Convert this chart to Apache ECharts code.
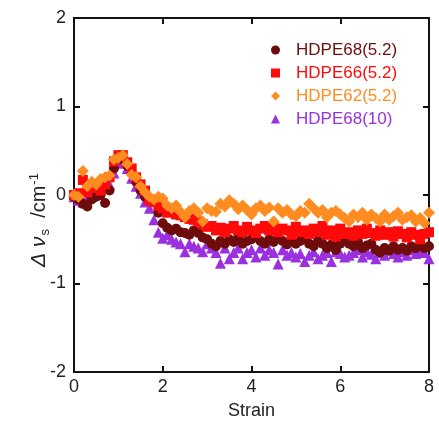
<!DOCTYPE html>
<html>
<head>
<meta charset="utf-8">
<script src="https://cdn.jsdelivr.net/npm/echarts@6/dist/echarts.min.js"></script>
<style>html,body{margin:0;padding:0;background:#fff}#c{width:439px;height:428px}</style>
</head>
<body>
<div id="c"></div>
<script>
var strain = [];
for (var i = 0; i <= 80; i++) strain.push(+(i / 10).toFixed(1));

var xTicks = [0, 2, 4, 6, 8];
var yTicks = [-2, -1, 0, 1, 2];
var seriesNames = ['HDPE68(5.2)', 'HDPE66(5.2)', 'HDPE62(5.2)', 'HDPE68(10)'];

var hdpe68_52 = [-0.02,-0.05,-0.10,-0.13,-0.05,-0.02,0.00,-0.09,0.05,0.30,
  0.43,0.40,0.33,0.25,0.15,0.05,-0.02,-0.05,-0.08,-0.20,
  -0.32,-0.37,-0.40,-0.38,-0.42,-0.43,-0.45,-0.40,-0.43,-0.48,
  -0.50,-0.55,-0.58,-0.52,-0.55,-0.50,-0.53,-0.48,-0.55,-0.52,
  -0.50,-0.47,-0.52,-0.55,-0.50,-0.53,-0.48,-0.52,-0.56,-0.50,
  -0.55,-0.52,-0.50,-0.55,-0.58,-0.52,-0.55,-0.60,-0.56,-0.62,
  -0.55,-0.50,-0.55,-0.58,-0.53,-0.60,-0.57,-0.55,-0.62,-0.65,
  -0.60,-0.63,-0.58,-0.62,-0.60,-0.63,-0.58,-0.60,-0.57,-0.60,-0.58];

var hdpe66_52 = [0.00,0.02,0.17,0.03,0.10,0.08,0.05,0.12,0.20,0.38,
  0.45,0.45,0.37,0.30,0.20,0.12,0.05,-0.06,-0.08,-0.12,
  -0.15,-0.20,-0.18,-0.22,-0.23,-0.25,-0.27,-0.28,-0.30,-0.33,
  -0.36,-0.35,-0.40,-0.37,-0.42,-0.38,-0.35,-0.40,-0.42,-0.36,
  -0.40,-0.43,-0.38,-0.35,-0.40,-0.37,-0.42,-0.38,-0.40,-0.45,
  -0.36,-0.42,-0.40,-0.44,-0.38,-0.42,-0.35,-0.45,-0.40,-0.47,
  -0.38,-0.44,-0.42,-0.46,-0.40,-0.44,-0.38,-0.43,-0.46,-0.40,
  -0.45,-0.42,-0.47,-0.41,-0.44,-0.48,-0.42,-0.45,-0.50,-0.44,-0.42];

var hdpe62_52 = [0.00,-0.02,0.27,0.10,0.15,0.12,0.18,0.20,0.22,0.40,
  0.42,0.45,0.35,0.23,0.20,0.10,0.03,-0.02,-0.05,-0.02,
  -0.04,-0.12,-0.15,-0.12,-0.19,-0.25,-0.18,-0.15,-0.20,-0.30,
  -0.15,-0.18,-0.19,-0.10,-0.13,-0.06,-0.10,-0.16,-0.12,-0.17,
  -0.22,-0.15,-0.12,-0.18,-0.14,-0.30,-0.15,-0.20,-0.17,-0.22,
  -0.24,-0.18,-0.20,-0.10,-0.15,-0.20,-0.17,-0.25,-0.20,-0.18,
  -0.22,-0.26,-0.30,-0.22,-0.25,-0.20,-0.28,-0.22,-0.26,-0.30,
  -0.22,-0.28,-0.24,-0.20,-0.28,-0.25,-0.23,-0.30,-0.26,-0.32,-0.20];

var hdpe68_10 = [-0.02,-0.06,-0.08,-0.03,0.02,0.02,0.08,0.10,0.12,0.25,
  0.36,0.40,0.30,0.19,0.10,0.02,-0.08,-0.15,-0.28,-0.42,
  -0.49,-0.45,-0.50,-0.53,-0.55,-0.64,-0.55,-0.58,-0.60,-0.64,
  -0.55,-0.60,-0.65,-0.77,-0.60,-0.72,-0.65,-0.60,-0.72,-0.65,
  -0.62,-0.70,-0.60,-0.68,-0.62,-0.65,-0.78,-0.62,-0.68,-0.65,
  -0.70,-0.66,-0.75,-0.68,-0.64,-0.72,-0.68,-0.65,-0.75,-0.64,
  -0.66,-0.70,-0.68,-0.65,-0.62,-0.70,-0.64,-0.67,-0.72,-0.65,
  -0.68,-0.62,-0.66,-0.70,-0.64,-0.68,-0.62,-0.66,-0.64,-0.65,-0.72];

var colors = ['#6e0c0c', '#ff0a0a', '#ff8c21', '#9b30e0'];
var symbols = ['circle', 'rect', 'diamond', 'triangle'];
var sizes = [10, 10, 12, 11];
var allData = [hdpe68_52, hdpe66_52, hdpe62_52, hdpe68_10];

function pairs(vals) { return vals.map(function (v, i) { return [strain[i], v]; }); }

var font = 'Liberation Sans, Arial, sans-serif';
var chart = echarts.init(document.getElementById('c'), null, {renderer: 'canvas'});

var axisCommon = {
  axisLine: {show: true, onZero: false, lineStyle: {color: '#111', width: 2}},
  axisTick: {show: true, inside: true, length: 6, lineStyle: {color: '#111', width: 2}},
  splitLine: {show: false}
};

var zs = [3, 4, 5, 2];
var series = allData.map(function (d, k) {
  return {
    name: seriesNames[k], type: 'scatter', data: pairs(d),
    symbol: symbols[k], symbolSize: sizes[k],
    itemStyle: {color: colors[k], opacity: 1},
    z: zs[k]
  };
});

chart.setOption({
  animation: false,
  grid: {left: 74, right: 10, top: 18, bottom: 56, containLabel: false},
  legend: {
    orient: 'vertical', left: 266, top: 35, itemGap: 3,
    itemWidth: 9, itemHeight: 9,
    data: seriesNames.map(function (n, k) {
      return {name: n, icon: symbols[k], itemStyle: {color: colors[k]},
        textStyle: {color: colors[k]}};
    }),
    textStyle: {fontFamily: font, fontSize: 17, lineHeight: 20, padding: [0, 0, 0, 11]}
  },
  graphic: [{
    type: 'text', x: 39, y: 220, rotation: Math.PI / 2,
    style: {
      text: '{it|Δ ν}{sub|s}{n|  /cm}{sup|-1}',
      align: 'center', verticalAlign: 'middle',
      rich: {
        it: {fontFamily: font, fontSize: 21, fontStyle: 'italic', fill: '#222'},
        sub: {fontFamily: font, fontSize: 13, fill: '#222', padding: [12, 0, 0, 1]},
        n: {fontFamily: font, fontSize: 20, fill: '#222'},
        sup: {fontFamily: font, fontSize: 13, fill: '#222', padding: [0, 0, 10, 1]}
      }
    }
  }],
  xAxis: [Object.assign({
    type: 'value', min: 0, max: 8, interval: 2, position: 'bottom',
    name: 'Strain', nameLocation: 'middle', nameGap: 30,
    nameTextStyle: {fontFamily: font, fontSize: 18, color: '#222'},
    axisLabel: {fontFamily: font, fontSize: 18, color: '#222', margin: 6,
      formatter: function (v) { return xTicks.indexOf(v) >= 0 ? String(v) : ''; }}
  }, axisCommon), Object.assign({
    type: 'value', min: 0, max: 8, interval: 2, position: 'top',
    axisLabel: {show: false}
  }, axisCommon)],
  yAxis: [Object.assign({
    type: 'value', min: -2, max: 2, interval: 1, position: 'left',
    axisLabel: {fontFamily: font, fontSize: 18, color: '#222', margin: 8,
      formatter: function (v) { return yTicks.indexOf(v) >= 0 ? String(v) : ''; }}
  }, axisCommon), Object.assign({
    type: 'value', min: -2, max: 2, interval: 1, position: 'right',
    axisLabel: {show: false}
  }, axisCommon)],
  series: series
});
</script>
</body>
</html>
